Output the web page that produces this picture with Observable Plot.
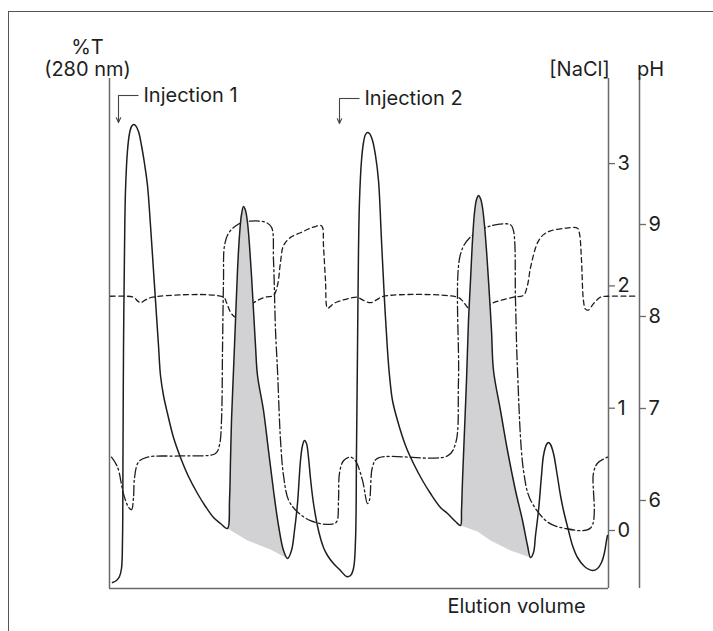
<!DOCTYPE html>
<html><head><meta charset="utf-8">
<script src="https://cdn.jsdelivr.net/npm/d3@7"></script>
<script src="https://cdn.jsdelivr.net/npm/@observablehq/plot@0.6"></script>
<style>
html,body{margin:0;padding:0;background:#fff;}
#wrap{position:relative;width:713px;height:631px;overflow:hidden;background:#fff;}
#chart{position:absolute;left:0;top:0;}
#border{position:absolute;left:8px;top:11px;width:800px;height:700px;border-left:1.5px solid #555;border-top:1.5px solid #555;pointer-events:none;}
</style></head><body>
<div id="wrap"><div id="chart"></div><div id="border"></div></div>
<script>
// ---- data (elution volume in arbitrary units) ----
const uvVolume = [3,7,10,12,13,13.5,14,15,16,18,20,22,24,26,29,32,35,38,41,44,47,49,51,54,58,64,71,79,88,96,104,111,118,
  120,121,122,124,126,128,130,132,134,136,138,140,142,144,146,148,154,159,164,169,174,178,
  182,185,188,191,193,195,197,199,201,204,209,214,218,224,231,237,241,244,246,247,248,249,250,252,254,256,258,260,
  263,266,269,272,275,278,280,283,288,296,304,313,321,331,338,346,351,
  352,353,355,357,359,361,363,365,367,369,371,373,375,377,379,382,384,391,398,406,413,418,421,
  424,426,429,432,434,437,439,441,444,447,451,454,459,463,468,475,483,488,492,495,497,498];
const uvSignal = [6,8,12,20,48,138,238,338,398,438,455,462,464,463,457,443,425,403,363,318,273,243,213,193,175,151,131,112,95,82,71,65,60,
  88,128,168,218,268,318,353,374,382,378,366,343,313,278,243,213,178,138,98,63,38,30,
  38,58,85,128,143,148,145,131,110,85,58,41,33,25,18,12,13,20,48,138,238,338,388,428,446,454,456,455,
  448,433,408,348,288,238,213,188,168,143,125,108,95,81,75,67,63,
  78,108,158,208,268,308,348,376,389,393,390,381,363,338,308,258,218,178,138,98,68,43,31,
  36,53,78,113,133,144,146,144,135,118,93,78,58,43,31,22,18,20,26,36,48,53];

const naclVolume = [2,8,14,19,22,24,25,29,38,71,106,110,112,113,114,115,119,128,141,156,162,164,166,168,171,174,179,187,201,
  221,227,229,230,234,241,246,253,258,260,263,268,338,346,349,351,361,381,401,404,406,408,414,421,438,454,481,484,488,498];
const naclConc = [0.60,0.52,0.30,0.19,0.17,0.27,0.43,0.56,0.60,0.61,0.63,0.70,0.90,1.47,2.04,2.33,2.43,2.50,2.53,2.52,2.48,2.21,1.64,1.31,0.74,0.45,0.25,0.16,0.08,
  0.05,0.07,0.25,0.47,0.57,0.60,0.57,0.41,0.22,0.25,0.52,0.59,0.61,0.71,1.23,2.26,2.40,2.49,2.50,2.45,1.88,1.31,0.49,0.25,0.07,0.02,0.02,0.47,0.55,0.60];

const phVolume = [1,24,28,31,36,43,114,117,122,127,139,149,156,164,168,171,174,181,191,201,211,213,214,216,218,221,224,231,241,248,
  253,261,267,274,348,353,359,367,377,384,404,414,418,421,428,434,441,456,468,470,472,474,476,479,484,491,498,528];
const phValue = [8.22,8.21,8.17,8.15,8.18,8.21,8.21,8.15,8.03,7.99,8.11,8.18,8.21,8.23,8.34,8.59,8.77,8.86,8.91,8.96,8.99,8.97,8.77,8.39,8.09,8.11,8.14,8.17,8.20,8.21,
  8.18,8.15,8.18,8.22,8.21,8.17,8.09,8.05,8.11,8.15,8.21,8.23,8.34,8.53,8.80,8.89,8.93,8.96,8.96,8.90,8.61,8.17,8.08,8.07,8.14,8.21,8.22,8.22];

// shaded peaks: start/end volume and baseline under each peak
const shadeFrom = [118, 351];
const shadeTo = [178, 421];
const baseVolume = [[118,138,161,178],[351,368,381,401,421]];
const baseSignal = [[60,48,39,30],[63,57,48,38,31]];

const naclTicks = [0,1,2,3];
const phTicks = [6,7,8,9];
const injectionLabels = ["Injection 1","Injection 2"];
const injectionVolume = [9, 230];
const injectionTop = [493, 490];
const injectionTip = [466, 465];

// ---- conversions onto the shared y scale ([NaCl] units) ----
const uvToY = a => (a - 58) / 122.3;
const phToY = p => (92 * p - 522) / 122.3;
const yMin = uvToY(0), yMax = uvToY(510);
const xMax = 499;

const uv = uvVolume.map((v,i)=>({v, y: uvToY(uvSignal[i])}));
const nacl = naclVolume.map((v,i)=>({v, y: naclConc[i]}));
const ph = phVolume.map((v,i)=>({v, y: phToY(phValue[i])}));
const shade = [];
shadeFrom.forEach((f,k)=>{
  uvVolume.forEach((v,i)=>{ if (v>=f && v<=shadeTo[k]) shade.push({k, v, y: uvToY(uvSignal[i])}); });
  baseVolume[k].map((v,i)=>({k, v, y: uvToY(baseSignal[k][i])})).reverse().forEach(d=>shade.push(d));
});
const inj = injectionLabels.map((t,i)=>({t, v: injectionVolume[i], y1: uvToY(injectionTop[i]), y2: uvToY(injectionTip[i])}));

const axisColor = "#6a6a6a";
const ink = "#1e1e1e";
const fs = 20;

const chart = Plot.plot({
  width: 713, height: 631,
  marginLeft: 109, marginRight: 105, marginTop: 78, marginBottom: 43,
  x: {domain: [0, xMax], axis: null},
  y: {domain: [yMin, yMax], axis: null},
  style: {fontFamily: "Inter, 'Noto Sans', sans-serif", fontSize: fs + "px", color: ink, background: "transparent"},
  marks: [
    // frame lines
    Plot.ruleX([0, xMax], {stroke: axisColor, strokeWidth: 1.5}),
    Plot.ruleY([yMin], {stroke: axisColor, strokeWidth: 1.5}),
    Plot.ruleX([530], {stroke: axisColor, strokeWidth: 1.5}),
    // NaCl axis ticks
    Plot.ruleY(naclTicks, {y: d=>d, x1: xMax, x2: xMax + 7, stroke: axisColor, strokeWidth: 1.3}),
    Plot.text(naclTicks, {y: d=>d, x: xMax, dx: 9, text: d=>String(d), textAnchor: "start", fill: ink, fontSize: fs}),
    // pH axis ticks
    Plot.ruleY(phTicks, {y: d=>phToY(d), x1: 530, x2: 537, stroke: axisColor, strokeWidth: 1.3}),
    Plot.text(phTicks, {y: d=>phToY(d), x: 530, dx: 9, text: d=>String(d), textAnchor: "start", fill: ink, fontSize: fs}),
    // traces
    Plot.line(nacl, {x: "v", y: "y", stroke: ink, strokeWidth: 1.3, strokeDasharray: "10,3,2,3", curve: "catmull-rom"}),
    Plot.line(ph, {x: "v", y: "y", stroke: ink, strokeWidth: 1.3, strokeDasharray: "5,3.5", curve: "catmull-rom"}),
    Plot.line(shade, {x: "v", y: "y", z: "k", fill: "#d2d2d4", stroke: "none", curve: "linear"}),
    Plot.line(uv, {x: "v", y: "y", stroke: ink, strokeWidth: 1.5, curve: "catmull-rom"}),
    // injections
    Plot.arrow(inj, {x1: "v", x2: "v", y1: "y1", y2: "y2", stroke: "#444", strokeWidth: 1.1, headLength: 7, headAngle: 50}),
    Plot.link(inj, {x1: "v", x2: d=>d.v + 20, y1: "y1", y2: "y1", stroke: "#444", strokeWidth: 1.1}),
    Plot.text(inj, {x: d=>d.v + 25, y: "y1", text: "t", textAnchor: "start", fill: ink, fontSize: fs}),
    // axis labels
    Plot.text(["%T"], {x: -22, frameAnchor: "top", dy: -39, fill: ink, fontSize: fs}),
    Plot.text(["(280 nm)"], {x: -22, frameAnchor: "top", dy: -17, fill: ink, fontSize: fs}),
    Plot.text(["[NaCl]"], {x: 470, frameAnchor: "top", dy: -17, fill: ink, fontSize: fs}),
    Plot.text(["pH"], {x: 541, frameAnchor: "top", dy: -17, fill: ink, fontSize: fs}),
    Plot.text(["Elution volume"], {x: 407, frameAnchor: "bottom", dy: 24, fill: ink, fontSize: fs})
  ]
});
document.getElementById("chart").appendChild(chart);
</script></body></html>
